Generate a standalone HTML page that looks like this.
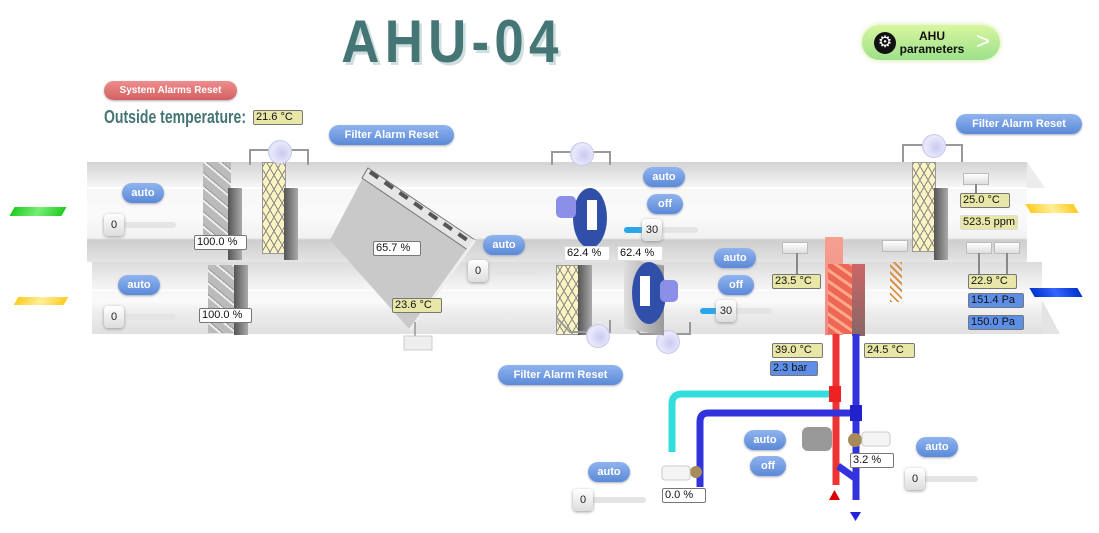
<!DOCTYPE html>
<html><head><meta charset="utf-8">
<style>
body{margin:0;width:1099px;height:533px;background:#fff;position:relative;overflow:hidden;font-family:"Liberation Sans",sans-serif}
.a{position:absolute}
.btn{position:absolute;border-radius:11px;background:linear-gradient(#8fb3ee,#5b8ad8);color:#fff;font-weight:bold;font-size:11px;text-align:center;box-shadow:0 1px 2px #aab}
.v{position:absolute;height:13px;font-size:11px;line-height:13px;border:1px solid #777;border-radius:2px;background:#fff;color:#111;padding-left:2px;box-sizing:content-box}
.y{background:#e8e7a7}
.b{background:#5e8fe8}
.knob{position:absolute;width:20px;height:22px;border-radius:4px;background:linear-gradient(#fff,#ddd);box-shadow:0 1px 3px #999;font-size:11px;line-height:22px;text-align:center;color:#222}
.trk{position:absolute;height:6px;border-radius:3px;background:#e4e4e4}
.duct{position:absolute}
.filt{position:absolute;border:1px solid #999;background:repeating-linear-gradient(60deg,#fbf3c0 0 6px,#888 6px 7px),#fbf3c0}
.filt::after{content:"";position:absolute;inset:0;background:repeating-linear-gradient(-60deg,transparent 0 6px,#888 6px 7px)}
.damp{position:absolute;background:repeating-linear-gradient(40deg,#bbb 0 7px,#eee 7px 9px,#999 9px 10px)}
.bar{position:absolute;background:linear-gradient(90deg,#555,#aaa)}
.cyl{position:absolute;width:22px;height:22px;border-radius:50%;background:radial-gradient(circle at 60% 55%,#c9c9f0,#e9e9fb 60%,#cfd0ea);border:1px solid #c9c9ee}
.sens{position:absolute;width:24px;height:10px;background:linear-gradient(#fff,#ddd);border:1px solid #bbb}
</style></head><body>

<div class="duct" style="left:87px;top:162px;width:940px;height:100px;background:linear-gradient(#d4d3d4 0%,#f2f2f2 22%,#f7f7f7 26%,#fafafa 55%,#f1f1f1 76%,#cdcdcd 78%,#e4e4e4 100%)"></div>
<div class="a" style="left:1027px;top:162px;width:0;height:0;border-top:26px solid transparent;border-left:18px solid #ececec"></div>
<div class="duct" style="left:92px;top:262px;width:950px;height:72px;background:linear-gradient(#dcdcdc 0%,#f6f6f6 38%,#fafafa 55%,#eeeeee 68%,#e0e0e0 100%)"></div>
<div class="a" style="left:1042px;top:300px;width:0;height:0;border-bottom:34px solid #e4e4e4;border-right:18px solid transparent"></div>
<div class="a" style="left:87px;top:187px;width:940px;height:2px;background:#fff"></div>
<div class="a" style="left:92px;top:290px;width:950px;height:1px;background:#fff"></div>

<div class="a" style="left:12px;top:207px;width:52px;height:9px;background:linear-gradient(90deg,#2c2,#7e7,#2c2);transform:skewX(-30deg)"></div>
<div class="a" style="left:16px;top:297px;width:50px;height:8px;background:linear-gradient(90deg,#fc2,#fe9,#fc2);transform:skewX(-30deg)"></div>
<div class="a" style="left:1028px;top:204px;width:48px;height:9px;background:linear-gradient(90deg,#fc2,#fe9,#fc2);transform:skewX(30deg)"></div>
<div class="a" style="left:1032px;top:288px;width:48px;height:9px;background:linear-gradient(90deg,#03c,#36f,#03c);transform:skewX(30deg)"></div>

<div class="damp" style="left:203px;top:162px;width:28px;height:88px"></div>
<div class="bar" style="left:228px;top:188px;width:14px;height:72px"></div>
<div class="damp" style="left:208px;top:265px;width:28px;height:68px"></div>
<div class="bar" style="left:234px;top:265px;width:14px;height:70px"></div>
<div class="filt" style="left:262px;top:162px;width:22px;height:90px"></div>
<div class="bar" style="left:284px;top:188px;width:14px;height:72px"></div>
<div class="filt" style="left:556px;top:265px;width:22px;height:68px"></div>
<div class="bar" style="left:578px;top:265px;width:14px;height:70px"></div>
<div class="filt" style="left:912px;top:162px;width:22px;height:88px"></div>
<div class="bar" style="left:934px;top:188px;width:14px;height:72px"></div>
<svg class="a" style="left:0;top:0" width="1099" height="533">
<path d="M250 165 V150 H308 V165 M552 165 V152 H610 V165 M903 162 V145 H962 V162 M557 318 L570 332 H610 V320 M628 320 L640 334 H690 V322" fill="none" stroke="#999" stroke-width="2"/>
<polygon points="330,240 368,168 475,240 410,330" fill="#c9c9c9"/>
<polygon points="368,168 475,240 468,250 362,178" fill="#e6e6e6" stroke="#777"/>
<path d="M370 172 L470 242" stroke="#555" stroke-width="4" stroke-dasharray="10 8"/>
<line x1="475" y1="240" x2="410" y2="330" stroke="#eee" stroke-width="3"/>
<line x1="415" y1="322" x2="415" y2="340" stroke="#aaa" stroke-width="2"/>
<rect x="404" y="336" width="28" height="14" fill="#eee" stroke="#ccc"/>
</svg>
<div class="cyl" style="left:268px;top:140px"></div>
<div class="cyl" style="left:570px;top:142px"></div>
<div class="cyl" style="left:922px;top:134px"></div>
<div class="cyl" style="left:586px;top:324px"></div>
<div class="cyl" style="left:656px;top:330px"></div>

<div class="a" style="left:573px;top:188px;width:34px;height:60px;border-radius:50%;background:#2f4fa8"></div>
<div class="a" style="left:587px;top:200px;width:10px;height:30px;background:#fff"></div>
<div class="a" style="left:556px;top:196px;width:20px;height:22px;border-radius:5px;background:#8b8fe8"></div>
<div class="a" style="left:624px;top:262px;width:40px;height:70px;background:linear-gradient(90deg,#ddd,#999);transform:skewY(10deg)"></div>
<div class="a" style="left:632px;top:262px;width:34px;height:62px;border-radius:50%;background:#2f4fa8"></div>
<div class="a" style="left:640px;top:276px;width:10px;height:30px;background:#fff"></div>
<div class="a" style="left:660px;top:280px;width:18px;height:22px;border-radius:5px;background:#8b8fe8"></div>

<div class="a" style="left:825px;top:237px;width:18px;height:98px;background:linear-gradient(#f6a090,#e88)"></div>
<div class="a" style="left:828px;top:264px;width:30px;height:70px;background:repeating-linear-gradient(35deg,#e65 0 6px,#fa8 6px 9px)"></div>
<div class="a" style="left:852px;top:264px;width:13px;height:72px;background:linear-gradient(#c66,#866)"></div>
<div class="a" style="left:890px;top:262px;width:12px;height:40px;background:repeating-linear-gradient(45deg,#d8934a 0 2px,transparent 2px 5px)"></div>
<div class="sens" style="left:782px;top:242px"></div><div class="a" style="left:796px;top:253px;width:2px;height:22px;background:#888"></div>
<div class="sens" style="left:882px;top:240px"></div>
<div class="sens" style="left:963px;top:173px"></div><div class="a" style="left:975px;top:184px;width:2px;height:10px;background:#888"></div>
<div class="sens" style="left:966px;top:242px"></div><div class="a" style="left:978px;top:253px;width:2px;height:22px;background:#888"></div>
<div class="sens" style="left:994px;top:242px"></div><div class="a" style="left:1006px;top:253px;width:2px;height:22px;background:#888"></div>

<svg class="a" style="left:0;top:0" width="1099" height="533">
<g fill="none" stroke-width="7" stroke-linejoin="round">
<path d="M836 334 V485" stroke="#e33"/>
<path d="M856 334 V500" stroke="#33d"/>
<path d="M833 394 H682 Q672 394 672 404 V452" stroke="#3dd"/>
<path d="M853 413 H708 Q700 413 700 422 V487" stroke="#33d"/>
<path d="M838 466 L855 478" stroke="#33d"/>
</g>
<rect x="829" y="386" width="12" height="16" fill="#e22"/>
<rect x="850" y="405" width="12" height="16" fill="#22c"/>
<polygon points="829,500 840,500 834.5,490" fill="#d00"/>
<polygon points="850,512 861,512 855.5,521" fill="#22d"/>
<rect x="802" y="427" width="30" height="24" rx="6" fill="#999"/>
<circle cx="855" cy="440" r="7" fill="#a88b5a"/>
<rect x="862" y="432" width="28" height="14" rx="3" fill="#f4f4f4" stroke="#ccc"/>
<circle cx="696" cy="472" r="6" fill="#a88b5a"/>
<rect x="662" y="466" width="28" height="14" rx="3" fill="#f4f4f4" stroke="#ccc"/>
</svg>

<div class="a" style="left:300px;top:10px;width:305px;text-align:center;font-size:60px;font-weight:bold;color:#457575;letter-spacing:6px;transform:scaleX(0.88);text-shadow:3px 3px 0 #cfdede;line-height:64px;white-space:nowrap">AHU-04</div>
<div class="a" style="left:862px;top:25px;width:138px;height:35px;border-radius:18px;background:linear-gradient(#d8f6a0,#9de08a);box-shadow:0 0 6px #cfe9a0"></div>
<div class="a" style="left:874px;top:32px;width:22px;height:22px;border-radius:50%;background:#111;color:#fff;font-size:16px;line-height:22px;text-align:center">⚙</div>
<div class="a" style="left:898px;top:30px;width:68px;text-align:center;font-size:12px;font-weight:bold;line-height:13px;color:#111">AHU<br>parameters</div>
<div class="a" style="left:976px;top:28px;font-size:24px;color:#fff">&gt;</div>
<div class="btn" style="left:104px;top:81px;width:133px;height:19px;line-height:19px;background:linear-gradient(#ee8d8d,#d46060);font-size:10px">System Alarms Reset</div>
<div class="a" style="left:104px;top:107px;font-size:18px;font-weight:bold;color:#457575;transform:scaleX(0.78);transform-origin:left;white-space:nowrap">Outside temperature:</div>
<div class="v y" style="left:253px;top:110px;width:46px">21.6 °C</div>
<div class="btn" style="left:329px;top:125px;width:125px;height:20px;line-height:20px">Filter Alarm Reset</div>
<div class="btn" style="left:956px;top:114px;width:126px;height:20px;line-height:20px">Filter Alarm Reset</div>
<div class="btn" style="left:498px;top:365px;width:125px;height:20px;line-height:20px">Filter Alarm Reset</div>

<div class="btn" style="left:122px;top:183px;width:42px;height:20px;line-height:20px">auto</div>
<div class="btn" style="left:118px;top:275px;width:42px;height:20px;line-height:20px">auto</div>
<div class="btn" style="left:483px;top:235px;width:42px;height:20px;line-height:20px">auto</div>
<div class="btn" style="left:643px;top:167px;width:42px;height:20px;line-height:20px">auto</div>
<div class="btn" style="left:647px;top:194px;width:36px;height:20px;line-height:20px">off</div>
<div class="btn" style="left:714px;top:248px;width:42px;height:20px;line-height:20px">auto</div>
<div class="btn" style="left:718px;top:275px;width:36px;height:20px;line-height:20px">off</div>
<div class="btn" style="left:744px;top:430px;width:42px;height:20px;line-height:20px">auto</div>
<div class="btn" style="left:750px;top:456px;width:36px;height:20px;line-height:20px">off</div>
<div class="btn" style="left:588px;top:462px;width:42px;height:20px;line-height:20px">auto</div>
<div class="btn" style="left:916px;top:437px;width:42px;height:20px;line-height:20px">auto</div>

<div class="trk" style="left:110px;top:222px;width:66px"></div><div class="knob" style="left:104px;top:214px">0</div>
<div class="trk" style="left:110px;top:314px;width:66px"></div><div class="knob" style="left:104px;top:306px">0</div>
<div class="trk" style="left:475px;top:268px;width:66px"></div><div class="knob" style="left:468px;top:260px">0</div>
<div class="trk" style="left:578px;top:497px;width:68px"></div><div class="knob" style="left:573px;top:489px">0</div>
<div class="trk" style="left:910px;top:476px;width:68px"></div><div class="knob" style="left:905px;top:468px">0</div>
<div class="trk" style="left:624px;top:227px;width:74px"></div><div class="trk" style="left:624px;top:227px;width:22px;background:#29a6ea"></div><div class="knob" style="left:642px;top:219px">30</div>
<div class="trk" style="left:700px;top:308px;width:72px"></div><div class="trk" style="left:700px;top:308px;width:20px;background:#29a6ea"></div><div class="knob" style="left:716px;top:300px">30</div>

<div class="v" style="left:194px;top:235px;width:49px">100.0 %</div>
<div class="v" style="left:199px;top:308px;width:49px">100.0 %</div>
<div class="v" style="left:373px;top:241px;width:44px">65.7 %</div>
<div class="v y" style="left:392px;top:298px;width:46px">23.6 °C</div>
<div class="v" style="left:564px;top:246px;width:42px;border-color:#ddd">62.4 %</div>
<div class="v" style="left:617px;top:246px;width:42px;border-color:#ddd">62.4 %</div>
<div class="v y" style="left:772px;top:274px;width:45px">23.5 °C</div>
<div class="v y" style="left:960px;top:193px;width:46px">25.0 °C</div>
<div class="v y" style="left:960px;top:215px;width:54px;border-color:#ddd">523.5 ppm</div>
<div class="v y" style="left:968px;top:274px;width:45px">22.9 °C</div>
<div class="v b" style="left:968px;top:293px;width:52px">151.4 Pa</div>
<div class="v b" style="left:968px;top:315px;width:52px">150.0 Pa</div>
<div class="v y" style="left:772px;top:343px;width:47px">39.0 °C</div>
<div class="v b" style="left:770px;top:361px;width:44px">2.3 bar</div>
<div class="v y" style="left:864px;top:343px;width:47px">24.5 °C</div>
<div class="v" style="left:850px;top:453px;width:40px">3.2 %</div>
<div class="v" style="left:662px;top:488px;width:40px">0.0 %</div>
</body></html>
